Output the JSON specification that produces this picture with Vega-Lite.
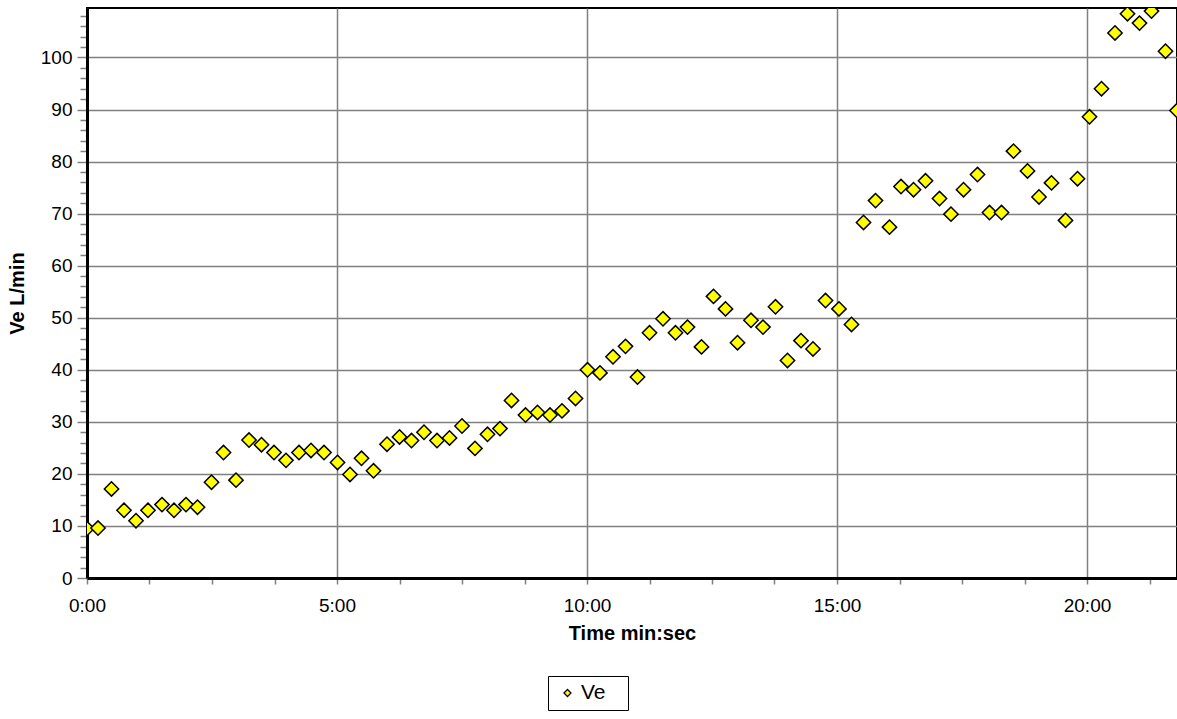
{
  "$schema": "https://vega.github.io/schema/vega-lite/v6.json",
  "autosize": {"type": "none"},
  "padding": {"left": 87, "top": 8, "right": 0, "bottom": 141},
  "width": 1090,
  "height": 570,
  "background": "white",
  "config": {
    "view": {"stroke": "black", "strokeWidth": 2},
    "font": "Liberation Sans",
    "axis": {"labelFont": "Liberation Sans", "titleFont": "Liberation Sans", "labelColor": "black", "titleColor": "black"}
  },
  "data": {"values": [
    {"t": 0.00, "ve": 9.5, "series": "Ve"},
    {"t": 0.22, "ve": 9.6, "series": "Ve"},
    {"t": 0.49, "ve": 17.1, "series": "Ve"},
    {"t": 0.74, "ve": 13.0, "series": "Ve"},
    {"t": 0.98, "ve": 11.0, "series": "Ve"},
    {"t": 1.22, "ve": 13.0, "series": "Ve"},
    {"t": 1.50, "ve": 14.1, "series": "Ve"},
    {"t": 1.74, "ve": 13.0, "series": "Ve"},
    {"t": 1.98, "ve": 14.1, "series": "Ve"},
    {"t": 2.21, "ve": 13.6, "series": "Ve"},
    {"t": 2.49, "ve": 18.4, "series": "Ve"},
    {"t": 2.73, "ve": 24.1, "series": "Ve"},
    {"t": 2.98, "ve": 18.8, "series": "Ve"},
    {"t": 3.24, "ve": 26.5, "series": "Ve"},
    {"t": 3.49, "ve": 25.6, "series": "Ve"},
    {"t": 3.74, "ve": 24.1, "series": "Ve"},
    {"t": 3.98, "ve": 22.6, "series": "Ve"},
    {"t": 4.24, "ve": 24.1, "series": "Ve"},
    {"t": 4.48, "ve": 24.5, "series": "Ve"},
    {"t": 4.74, "ve": 24.1, "series": "Ve"},
    {"t": 5.01, "ve": 22.2, "series": "Ve"},
    {"t": 5.26, "ve": 19.9, "series": "Ve"},
    {"t": 5.49, "ve": 23.0, "series": "Ve"},
    {"t": 5.73, "ve": 20.6, "series": "Ve"},
    {"t": 6.00, "ve": 25.7, "series": "Ve"},
    {"t": 6.25, "ve": 27.1, "series": "Ve"},
    {"t": 6.49, "ve": 26.4, "series": "Ve"},
    {"t": 6.74, "ve": 28.0, "series": "Ve"},
    {"t": 7.00, "ve": 26.4, "series": "Ve"},
    {"t": 7.25, "ve": 26.9, "series": "Ve"},
    {"t": 7.50, "ve": 29.2, "series": "Ve"},
    {"t": 7.76, "ve": 24.9, "series": "Ve"},
    {"t": 8.01, "ve": 27.6, "series": "Ve"},
    {"t": 8.26, "ve": 28.7, "series": "Ve"},
    {"t": 8.49, "ve": 34.1, "series": "Ve"},
    {"t": 8.77, "ve": 31.3, "series": "Ve"},
    {"t": 9.01, "ve": 31.8, "series": "Ve"},
    {"t": 9.26, "ve": 31.3, "series": "Ve"},
    {"t": 9.50, "ve": 32.1, "series": "Ve"},
    {"t": 9.77, "ve": 34.5, "series": "Ve"},
    {"t": 10.01, "ve": 40.0, "series": "Ve"},
    {"t": 10.26, "ve": 39.4, "series": "Ve"},
    {"t": 10.52, "ve": 42.5, "series": "Ve"},
    {"t": 10.77, "ve": 44.5, "series": "Ve"},
    {"t": 11.01, "ve": 38.6, "series": "Ve"},
    {"t": 11.25, "ve": 47.1, "series": "Ve"},
    {"t": 11.52, "ve": 49.8, "series": "Ve"},
    {"t": 11.77, "ve": 47.1, "series": "Ve"},
    {"t": 12.01, "ve": 48.2, "series": "Ve"},
    {"t": 12.29, "ve": 44.4, "series": "Ve"},
    {"t": 12.53, "ve": 54.1, "series": "Ve"},
    {"t": 12.77, "ve": 51.7, "series": "Ve"},
    {"t": 13.01, "ve": 45.2, "series": "Ve"},
    {"t": 13.28, "ve": 49.5, "series": "Ve"},
    {"t": 13.52, "ve": 48.2, "series": "Ve"},
    {"t": 13.77, "ve": 52.1, "series": "Ve"},
    {"t": 14.01, "ve": 41.8, "series": "Ve"},
    {"t": 14.28, "ve": 45.6, "series": "Ve"},
    {"t": 14.52, "ve": 44.0, "series": "Ve"},
    {"t": 14.77, "ve": 53.3, "series": "Ve"},
    {"t": 15.04, "ve": 51.7, "series": "Ve"},
    {"t": 15.29, "ve": 48.7, "series": "Ve"},
    {"t": 15.53, "ve": 68.3, "series": "Ve"},
    {"t": 15.77, "ve": 72.5, "series": "Ve"},
    {"t": 16.05, "ve": 67.4, "series": "Ve"},
    {"t": 16.28, "ve": 75.2, "series": "Ve"},
    {"t": 16.53, "ve": 74.6, "series": "Ve"},
    {"t": 16.77, "ve": 76.3, "series": "Ve"},
    {"t": 17.05, "ve": 72.9, "series": "Ve"},
    {"t": 17.28, "ve": 69.9, "series": "Ve"},
    {"t": 17.53, "ve": 74.6, "series": "Ve"},
    {"t": 17.81, "ve": 77.5, "series": "Ve"},
    {"t": 18.05, "ve": 70.2, "series": "Ve"},
    {"t": 18.29, "ve": 70.2, "series": "Ve"},
    {"t": 18.53, "ve": 82.0, "series": "Ve"},
    {"t": 18.81, "ve": 78.2, "series": "Ve"},
    {"t": 19.04, "ve": 73.2, "series": "Ve"},
    {"t": 19.29, "ve": 75.9, "series": "Ve"},
    {"t": 19.57, "ve": 68.7, "series": "Ve"},
    {"t": 19.81, "ve": 76.7, "series": "Ve"},
    {"t": 20.05, "ve": 88.6, "series": "Ve"},
    {"t": 20.29, "ve": 94.0, "series": "Ve"},
    {"t": 20.56, "ve": 104.7, "series": "Ve"},
    {"t": 20.81, "ve": 108.4, "series": "Ve"},
    {"t": 21.05, "ve": 106.6, "series": "Ve"},
    {"t": 21.29, "ve": 108.9, "series": "Ve"},
    {"t": 21.57, "ve": 101.2, "series": "Ve"},
    {"t": 21.80, "ve": 89.8, "series": "Ve"}
  ]},
  "layer": [
    {
      "mark": {"type": "point", "opacity": 0, "clip": true},
      "encoding": {
        "x": {"field": "t", "type": "quantitative", "scale": {"domain": [0, 21.8], "nice": false, "zero": false},
          "axis": {"orient": "bottom", "values": [1.25, 2.5, 3.75, 6.25, 7.5, 8.75, 11.25, 12.5, 13.75, 16.25, 17.5, 18.75, 21.25],
            "labels": false, "grid": false, "domain": false, "title": null, "tickSize": 6, "tickColor": "#808080", "tickWidth": 1.5}},
        "y": {"field": "ve", "type": "quantitative", "scale": {"domain": [0, 109.5], "nice": false},
          "axis": {"orient": "left", "values": [2,4,6,8,12,14,16,18,22,24,26,28,32,34,36,38,42,44,46,48,52,54,56,58,62,64,66,68,72,74,76,78,82,84,86,88,92,94,96,98,102,104,106,108],
            "labels": false, "grid": false, "domain": false, "title": null, "tickSize": 7, "tickColor": "#808080", "tickWidth": 1.5}}
      }
    },
    {
      "mark": {"type": "point", "shape": "diamond", "filled": true, "stroke": "black", "strokeWidth": 1.5, "size": 205, "opacity": 1, "clip": true},
      "encoding": {
        "x": {"field": "t", "type": "quantitative", "scale": {"domain": [0, 21.8], "nice": false, "zero": false},
          "axis": {"orient": "bottom", "values": [0, 5, 10, 15, 20], "labelExpr": "floor(datum.value) + ':00'",
            "title": "Time min:sec", "titleFontSize": 20, "titleFontWeight": "bold", "titlePadding": 8,
            "labelFontSize": 19, "labelPadding": 12, "tickSize": 6, "tickColor": "#808080", "tickWidth": 1.5,
            "grid": true, "gridColor": "#808080", "gridWidth": 1.5, "domain": true, "domainColor": "black", "domainWidth": 3,
            "labelFlush": false}},
        "y": {"field": "ve", "type": "quantitative", "scale": {"domain": [0, 109.5], "nice": false},
          "axis": {"orient": "left", "values": [0, 10, 20, 30, 40, 50, 60, 70, 80, 90, 100],
            "title": "Ve L/min", "titleFontSize": 20, "titleFontWeight": "bold", "titlePadding": 13,
            "labelFontSize": 19, "labelPadding": 5, "tickSize": 10, "tickColor": "#808080", "tickWidth": 1.5,
            "grid": true, "gridColor": "#808080", "gridWidth": 1.5, "domain": true, "domainColor": "black", "domainWidth": 3}},
        "color": {"field": "series", "type": "nominal", "scale": {"range": ["#ffff00"]},
          "legend": {"orient": "none", "legendX": 461, "legendY": 668, "title": " ", "titleOrient": "right", "titlePadding": 16, "titleFontSize": 8,
            "direction": "vertical",
            "strokeColor": "black", "fillColor": "white", "padding": 6.5, "symbolType": "diamond", "symbolSize": 50,
            "symbolStrokeColor": "black", "symbolStrokeWidth": 1.2, "symbolOffset": 2.5, "labelOffset": 3,
            "labelFontSize": 21, "labelFont": "Liberation Sans", "labelColor": "black"}}
      }
    }
  ],
  "resolve": {"axis": {"x": "independent", "y": "independent"}}
}
